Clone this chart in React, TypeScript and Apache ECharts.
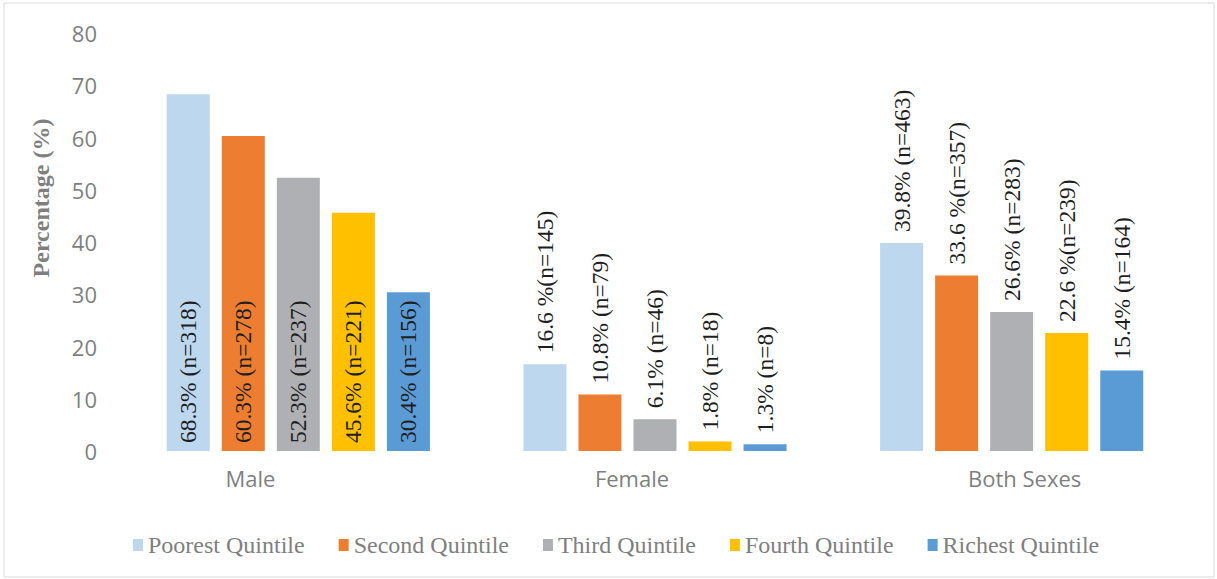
import React, { useEffect, useRef } from "react";
import * as echarts from "echarts";

const categories = ["Male", "Female", "Both Sexes"];
const seriesNames = ["Poorest Quintile", "Second Quintile", "Third Quintile", "Fourth Quintile", "Richest Quintile"];
const seriesColors = ["#BDD7EE", "#ED7D31", "#AFB0B3", "#FFC000", "#5B9BD5"];
const poorest = [68.3, 16.6, 39.8];
const second = [60.3, 10.8, 33.6];
const third = [52.3, 6.1, 26.6];
const fourth = [45.6, 1.8, 22.6];
const richest = [30.4, 1.3, 15.4];
const poorestLabels = ["68.3% (n=318)", "16.6 %(n=145)", "39.8% (n=463)"];
const secondLabels = ["60.3% (n=278)", "10.8% (n=79)", "33.6 %(n=357)"];
const thirdLabels = ["52.3% (n=237)", "6.1% (n=46)", "26.6% (n=283)"];
const fourthLabels = ["45.6% (n=221)", "1.8% (n=18)", "22.6 %(n=239)"];
const richestLabels = ["30.4% (n=156)", "1.3% (n=8)", "15.4% (n=164)"];
const yTicks = { min: 0, max: 80, interval: 10 };
const yAxisTitle = "Percentage (%)";

const values = [poorest, second, third, fourth, richest];
const labels = [poorestLabels, secondLabels, thirdLabels, fourthLabels, richestLabels];

export default function App() {
  const ref = useRef<HTMLDivElement>(null);
  useEffect(() => {
    if (!ref.current) return;
    const chart = echarts.init(ref.current, null, { renderer: "svg" });
    const serif = "'Liberation Serif', 'Times New Roman', serif";
    const sans = "'Open Sans', sans-serif";
    const catKeys = ["a", "b", "c"];
    const series = seriesNames.map((name, si) => ({
      name,
      type: "bar",
      barWidth: 43,
      barGap: "28%",
      itemStyle: { color: seriesColors[si] },
      data: values[si].map((v, ci) => ({
        value: v,
        label: {
          show: true,
          formatter: labels[si][ci],
          position: ci === 0 ? "insideBottom" : "top",
          rotate: 90,
          align: "left",
          verticalAlign: "middle",
          distance: ci === 0 ? 8 : 11,
          fontFamily: serif,
          fontSize: 23.5,
          color: "#1e1e1e",
        },
      })),
    }));
    chart.setOption({
      animation: false,
      grid: { left: 120, right: 27, top: 33, bottom: 128 },
      legend: {
        data: seriesNames,
        left: 128,
        top: 528,
        icon: "rect",
        itemWidth: 10,
        itemHeight: 12,
        itemGap: 34,
        textStyle: { fontFamily: serif, fontSize: 24, color: "#7f7f7f" },
      },
      xAxis: {
        type: "category",
        data: categories,
        axisLine: { show: false },
        axisTick: { show: false },
        axisLabel: {
          margin: 16,
          formatter: (v: string) => `{${catKeys[categories.indexOf(v)]}|${v}}`,
          rich: {
            a: { fontFamily: sans, fontSize: 22, color: "#7f7f7f", padding: [0, 96, 0, 0] },
            b: { fontFamily: sans, fontSize: 22, color: "#7f7f7f", padding: [0, 46, 0, 0] },
            c: { fontFamily: sans, fontSize: 22, color: "#7f7f7f", padding: [0, 0, 0, 26] },
          },
        },
      },
      yAxis: {
        type: "value",
        min: yTicks.min,
        max: yTicks.max,
        interval: yTicks.interval,
        splitLine: { show: false },
        axisLine: { show: false },
        axisTick: { show: false },
        axisLabel: { margin: 23, fontFamily: sans, fontSize: 22, color: "#7f7f7f" },
      },
      graphic: [
        {
          type: "rect",
          shape: { x: 4, y: 3, width: 1210, height: 574 },
          style: { fill: "none", stroke: "#d9d9d9", lineWidth: 1 },
          silent: true,
          z: -10,
        },
        {
          type: "text",
          x: 41,
          y: 198,
          rotation: Math.PI / 2,
          style: {
            text: yAxisTitle,
            fontFamily: serif,
            fontWeight: "bold",
            fontSize: 24,
            fill: "#7f7f7f",
            align: "center",
            verticalAlign: "middle",
          },
        },
      ],
      series,
    });
    return () => chart.dispose();
  }, []);
  return (
    <div
      ref={ref}
      style={{ position: "absolute", left: 0, top: 0, width: 1217, height: 579, background: "#fff" }}
    />
  );
}
